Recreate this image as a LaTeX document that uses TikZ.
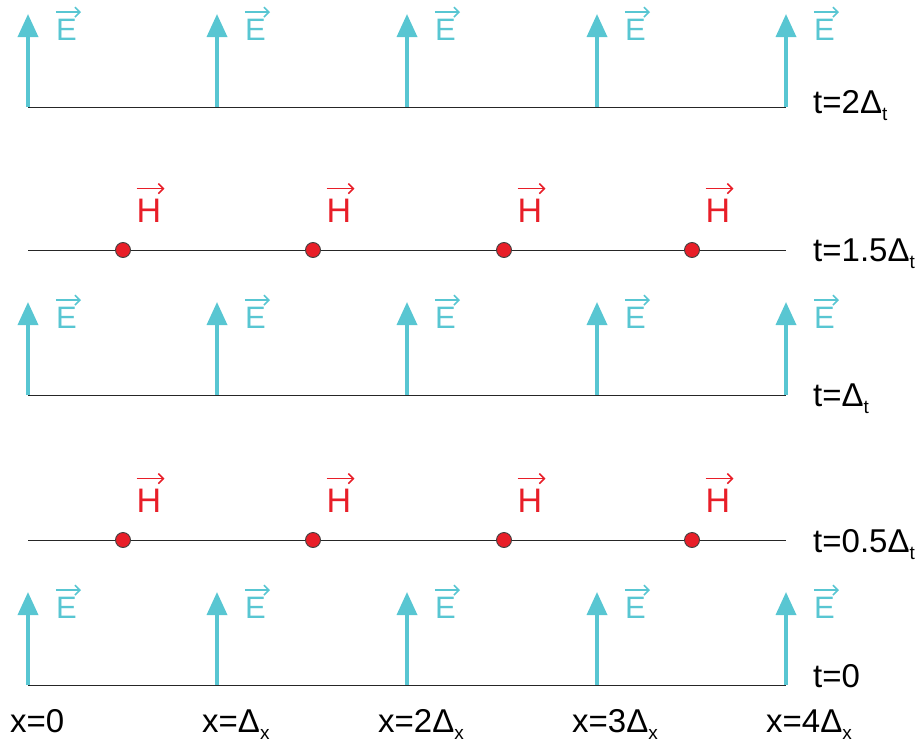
\documentclass[tikz,border=0pt]{standalone}
\usepackage{fontspec}
\setmainfont{Liberation Sans}
\usetikzlibrary{arrows.meta}
\definecolor{ecyan}{RGB}{88,198,210}
\definecolor{hred}{RGB}{232,30,40}
\newcommand\sbt[1]{\raisebox{-0.23em}{\fontsize{19}{19}\selectfont #1}}
\tikzset{
 axisline/.style={line width=1pt, black!85},
 efield/.style={ecyan, line width=3.5pt, -{Triangle[length=23pt,width=20pt]}},
 hdot/.style={circle, fill=hred, draw=black!75, line width=0.9pt, minimum size=15pt, inner sep=0pt},
 elabel/.style={text=ecyan, font=\fontsize{31}{31}\selectfont, inner sep=0pt},
 hlabel/.style={text=hred, font=\fontsize{34}{34}\selectfont, inner sep=0pt},
 tlabel/.style={font=\fontsize{33}{33}\selectfont, anchor=base west, inner sep=0pt},
 vecarrow/.style={line width=1.6pt, -{Straight Barb[length=5pt,width=10pt]}},
}
\begin{document}
\begin{tikzpicture}[x=1pt,y=-1pt]
\useasboundingbox (0,0) rectangle (919,747);
% E rows
\foreach \r/\y in {1/107,3/395,5/685}{
  \coordinate (La\r) at (28,\y);
  \coordinate (Lb\r) at (786,\y);
  \draw[axisline] (La\r) -- (Lb\r);
  \foreach \i/\x in {0/28,1/217,2/407,3/597,4/786}{
    \coordinate (Eb\r\i) at (\x,\y);
    \coordinate (Et\r\i) at (\x,\y-93);
    \draw[efield] (Eb\r\i) -- (Et\r\i);
    \node[elabel] (El\r\i) at (\x+38.5,\y-77) {E};
    \draw[vecarrow,ecyan] ([yshift=7pt]El\r\i.north west) -- ([xshift=4pt,yshift=7pt]El\r\i.north east);
  }
}
% H rows
\foreach \r/\y in {2/250,4/540}{
  \coordinate (La\r) at (28,\y);
  \coordinate (Lb\r) at (786,\y);
  \draw[axisline] (La\r) -- (Lb\r);
  \foreach \i/\x in {0/123,1/313,2/504,3/692}{
    \node[hdot] (D\r\i) at (\x,\y) {};
    \node[hlabel] (Hl\r\i) at (\x+26,\y-39.5) {H};
    \draw[vecarrow,hred] ([yshift=10pt]Hl\r\i.north west) -- ([xshift=3pt,yshift=10pt]Hl\r\i.north east);
  }
}
% time labels
\node[tlabel] (T1) at (813,113) {t=2Δ\sbt{t}};
\node[tlabel] (T2) at (813,261) {t=1.5Δ\sbt{t}};
\node[tlabel] (T3) at (813,406) {t=Δ\sbt{t}};
\node[tlabel] (T4) at (813,552) {t=0.5Δ\sbt{t}};
\node[tlabel] (T5) at (813,687) {t=0};
% x labels
\node[tlabel] (X0) at (10,732) {x=0};
\node[tlabel] (X1) at (202,732) {x=Δ\sbt{x}};
\node[tlabel] (X2) at (378,732) {x=2Δ\sbt{x}};
\node[tlabel] (X3) at (572,732) {x=3Δ\sbt{x}};
\node[tlabel] (X4) at (766,732) {x=4Δ\sbt{x}};
\end{tikzpicture}
\end{document}
